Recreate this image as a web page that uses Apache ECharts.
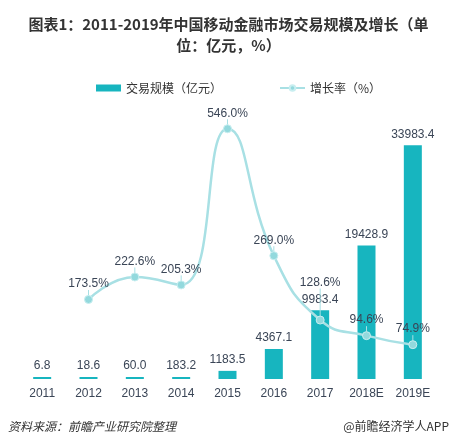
<!DOCTYPE html>
<html>
<head>
<meta charset="utf-8">
<script src="https://cdn.jsdelivr.net/npm/echarts@6/dist/echarts.min.js"></script>
<style>html,body{margin:0;padding:0;background:#fff;}#c{width:457px;height:447px;}</style>
</head>
<body>
<div id="c"></div>
<script>
var categories = ['2011','2012','2013','2014','2015','2016','2017','2018E','2019E'];
var volume = [6.8, 18.6, 60.0, 183.2, 1183.5, 4367.1, 9983.4, 19428.9, 33983.4];
var growth = [null, 173.5, 222.6, 205.3, 546.0, 269.0, 128.6, 94.6, 74.9];
var titleText = '图表1：2011-2019年中国移动金融市场交易规模及增长（单\n位：亿元，%）';
var sourceText = '资料来源：前瞻产业研究院整理';
var brandText = '@前瞻经济学人APP';

var labelColor = '#3a4556';
var chart = echarts.init(document.getElementById('c'));
chart.setOption({
  backgroundColor: '#fff',
  title: [{
    text: titleText, left: 'center', top: 9,
    textStyle: {fontSize: 15, fontWeight: 'bold', color: '#333', lineHeight: 21, fontFamily: 'Noto Sans CJK SC'}
  }],
  graphic: [
    {type: 'text', left: 8, top: 420, style: {text: sourceText, fill: '#333', font: 'italic 12px "Noto Sans CJK SC"'}},
    {type: 'text', right: 8, top: 420, style: {text: brandText, fill: '#333', font: '12px "Noto Sans CJK SC"'}}
  ],
  legend: {
    top: 77, left: 91, itemGap: 57, itemWidth: 25, itemHeight: 7,
    textStyle: {fontSize: 12, color: '#333', fontFamily: 'Noto Sans CJK SC'},
    data: [{name: '交易规模（亿元）', icon: 'rect'}, {name: '增长率（%）'}]
  },
  grid: {left: 19, right: 21, top: 104, bottom: 68},
  xAxis: {
    type: 'category', data: categories,
    axisLine: {show: false}, axisTick: {show: false},
    axisLabel: {color: labelColor, fontSize: 12, margin: 9}
  },
  yAxis: [
    {type: 'value', min: 0, max: 40000, show: false, splitLine: {show: false}},
    {type: 'value', min: 0, max: 600, show: false, splitLine: {show: false}}
  ],
  series: [
    {
      name: '交易规模（亿元）', type: 'bar', yAxisIndex: 0, data: volume,
      barWidth: 18, barMinHeight: 2,
      itemStyle: {color: '#17b5bf'},
      label: {show: true, position: 'top', distance: 5, color: labelColor, fontSize: 12,
        formatter: function(p){ return p.value.toFixed(1); }}
    },
    {
      name: '增长率（%）', type: 'line', yAxisIndex: 1, data: growth,
      smooth: true, symbol: 'circle', symbolSize: 8,
      lineStyle: {color: '#a8e0e4', width: 2.5},
      itemStyle: {color: '#93d9dd', borderColor: '#c8eef0', borderWidth: 1},
      label: {show: true, position: 'top', distance: 5, color: labelColor, fontSize: 12,
        formatter: function(p){ return p.value.toFixed(1) + '%'; }},
      labelLine: {show: true, lineStyle: {color: '#a8e0e4', width: 1}},
      labelLayout: function(p){ if (p.dataIndex === 6) { return {dy: -22}; } return {}; },
      z: 5
    }
  ]
});
</script>
</body>
</html>
